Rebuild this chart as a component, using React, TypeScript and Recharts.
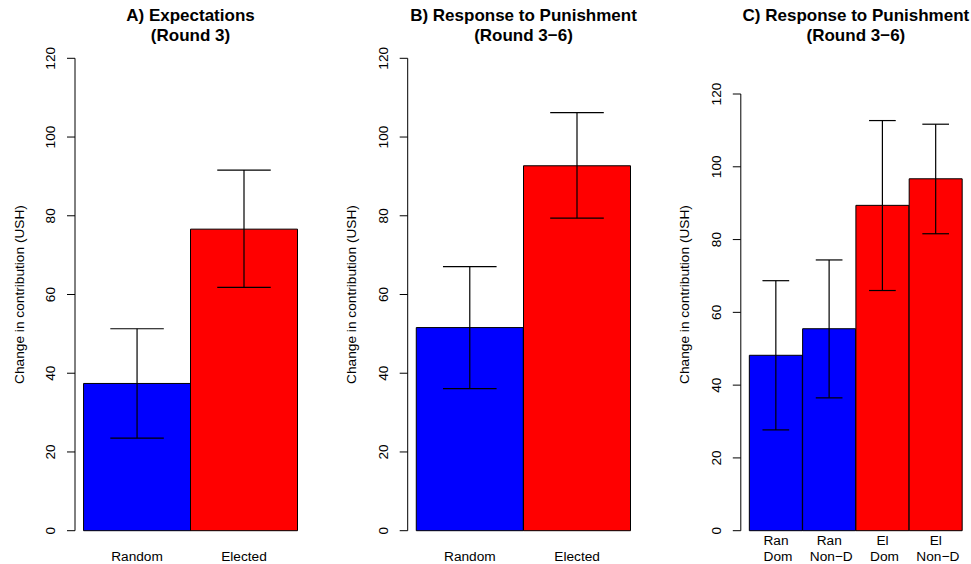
import React from 'react';
import { BarChart, Bar, XAxis, YAxis, ErrorBar, Cell } from 'recharts';

// ---------- data ----------
const yTicks = [0, 20, 40, 60, 80, 100, 120];
const yLabel = 'Change in contribution (USH)';

const titleA = ['A) Expectations', '(Round 3)'];
const catsA = ['Random', 'Elected'];
const meanA = [37.4, 76.6];
const lowA = [23.5, 61.8];
const highA = [51.3, 91.6];

const titleB = ['B) Response to Punishment', '(Round 3\u22126)'];
const catsB = ['Random', 'Elected'];
const meanB = [51.6, 92.7];
const lowB = [36.1, 79.4];
const highB = [67.1, 106.2];

const titleC = ['C) Response to Punishment', '(Round 3\u22126)'];
const catsC = ['Ran\nDom', 'Ran\nNon\u2212D', 'El\nDom', 'El\nNon\u2212D'];
const meanC = [48.2, 55.5, 89.4, 96.7];
const lowC = [27.7, 36.5, 66.0, 81.6];
const highC = [68.7, 74.4, 112.7, 111.7];

// ---------- styles ----------
const BLUE = '#0000ff';
const RED = '#ff0000';
const fillsAB = [BLUE, RED];
const fillsC = [BLUE, BLUE, RED, RED];
const FONT = '"Liberation Sans", Arial, Helvetica, sans-serif';
const LABEL_SIZE = 13.7;
const TITLE_SIZE = 17;

type Row = { name: string; mean: number; err: [number, number] };

const buildRows = (cats: string[], mean: number[], low: number[], high: number[]): Row[] =>
  cats.map((name, i) => ({ name, mean: mean[i], err: [mean[i] - low[i], high[i] - mean[i]] }));

const rowsA = buildRows(catsA, meanA, lowA, highA);
const rowsB = buildRows(catsB, meanB, lowB, highB);
const rowsC = buildRows(catsC, meanC, lowC, highC);

type PanelProps = {
  rows: Row[];
  fills: string[];
  title: string[];
  left: number;
  width: number;
  yw: number;
  mRight: number;
  mTop: number;
  pad: number;
  capHalf: number;
};

const H = 564;
const PLOT_BOTTOM = 530.7;
const X_AXIS_H = 30;

const Panel = ({ rows, fills, title, left, width, yw, mRight, mTop, pad, capHalf }: PanelProps) => {
  const plotW = width - yw - mRight;
  const cx = yw + plotW / 2;
  const YTick = (p: any) => (
    <text
      x={p.x}
      y={p.y}
      transform={`rotate(-90 ${p.x} ${p.y})`}
      textAnchor="middle"
      fontFamily={FONT}
      fontSize={LABEL_SIZE}
      fill="#000"
    >
      {p.payload.value}
    </text>
  );
  const XTick = (p: any) => {
    const lines = String(p.payload.value).split('\n');
    return (
      <g>
        {lines.map((l, i) => (
          <text
            key={i}
            x={p.x + (i > 0 ? 2 : 0)}
            y={lines.length === 1 ? p.y + 29.8 : p.y + 14 + i * 15.8}
            textAnchor="middle"
            fontFamily={FONT}
            fontSize={LABEL_SIZE}
            fill="#000"
          >
            {l}
          </text>
        ))}
      </g>
    );
  };
  const YLab = () => (
    <text
      x={yw - 51.5}
      y={294.5}
      transform={`rotate(-90 ${yw - 51.5} 294.5)`}
      textAnchor="middle"
      fontFamily={FONT}
      fontSize={LABEL_SIZE}
      fill="#000"
    >
      {yLabel}
    </text>
  );
  return (
    <div style={{ position: 'absolute', left, top: 0, width, height: H }}>
      <svg
        width={width}
        height={60}
        style={{ position: 'absolute', left: 0, top: 0, overflow: 'visible' }}
      >
        <text x={cx} y={21} textAnchor="middle" fontFamily={FONT} fontWeight="bold" fontSize={TITLE_SIZE} fill="#000">
          {title[0]}
        </text>
        <text x={cx} y={41} textAnchor="middle" fontFamily={FONT} fontWeight="bold" fontSize={TITLE_SIZE} fill="#000">
          {title[1]}
        </text>
      </svg>
      <div style={{ position: 'absolute', left: 0, top: 0 }}>
        <BarChart
          width={width}
          height={H}
          data={rows}
          barCategoryGap={0}
          barGap={0}
          margin={{ top: mTop, right: mRight, left: 0, bottom: H - PLOT_BOTTOM - X_AXIS_H }}
        >
          <XAxis
            dataKey="name"
            type="category"
            axisLine={false}
            tickLine={false}
            tickSize={0}
            tickMargin={0}
            height={X_AXIS_H}
            padding={{ left: pad, right: pad }}
            interval={0}
            tick={XTick}
          />
          <YAxis
            type="number"
            domain={[0, 120]}
            ticks={yTicks}
            interval={0}
            width={yw}
            axisLine={{ stroke: '#000', strokeWidth: 1 }}
            tickLine={{ stroke: '#000', strokeWidth: 1 }}
            tickSize={8}
            tickMargin={12}
            tick={YTick}
            label={{ value: yLabel, content: YLab }}
          />
          <Bar dataKey="mean" isAnimationActive={false} stroke="#000" strokeWidth={1}>
            {rows.map((r, i) => (
              <Cell key={r.name} fill={fills[i]} />
            ))}
            <ErrorBar
              dataKey="err"
              direction="y"
              width={capHalf}
              stroke="#000"
              strokeWidth={1.2}
              isAnimationActive={false}
            />
          </Bar>
        </BarChart>
      </div>
    </div>
  );
};

export default function App() {
  return (
    <div style={{ position: 'absolute', left: 0, top: 0, width: 971, height: H, background: '#fff', overflow: 'hidden' }}>
      <Panel rows={rowsA} fills={fillsAB} title={titleA} left={0} width={320} yw={75} mRight={14} mTop={58.3} pad={8.56} capHalf={26.75} />
      <Panel rows={rowsB} fills={fillsAB} title={titleB} left={330} width={320} yw={77.7} mRight={10.7} mTop={58.3} pad={8.58} capHalf={26.8} />
      <Panel rows={rowsC} fills={fillsC} title={titleC} left={650} width={321} yw={90.8} mRight={0} mTop={94} pad={8.54} capHalf={13.35} />
    </div>
  );
}
